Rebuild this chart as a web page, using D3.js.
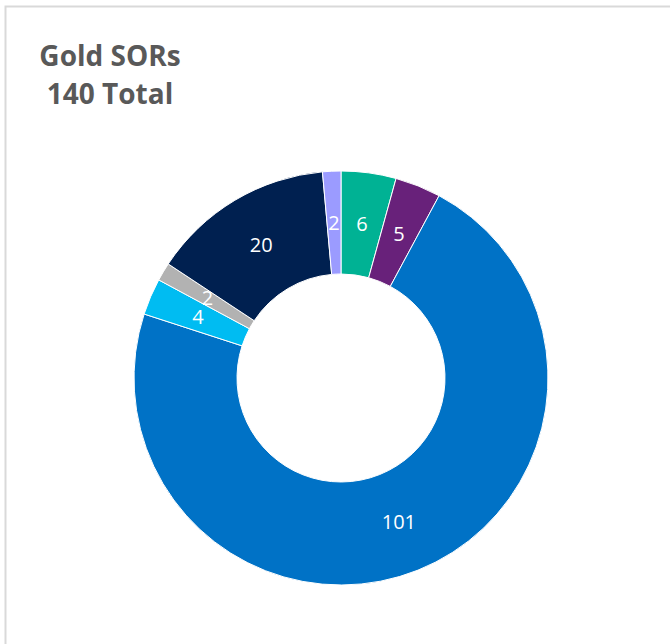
<!DOCTYPE html>
<html>
<head>
<meta charset="utf-8">
<script src="https://cdn.jsdelivr.net/npm/d3@7"></script>
<style>
  html, body { margin: 0; padding: 0; background: #fff; }
</style>
</head>
<body>
<svg id="chart" width="670" height="644"></svg>
<script>
// slices clockwise from 12 o'clock
const categories = ["A", "B", "C", "D", "E", "F", "G"]
const values = [6, 5, 101, 4, 2, 20, 2]
const colors = ["#00B294", "#68217A", "#0072C6", "#00BCF2", "#B2B2B2", "#002050", "#9B9BFF"]
const titleLines = ["Gold SORs", "140 Total"]

var svg = d3.select("#chart")

// panel border
svg.append("rect")
  .attr("x", 5.5).attr("y", 6.5)
  .attr("width", 700).attr("height", 700)
  .attr("fill", "none")
  .attr("stroke", "#d9d9d9")
  .attr("stroke-width", 2)

svg.selectAll(".title")
  .data(titleLines)
  .enter().append("text")
  .attr("class", "title")
  .attr("x", 110)
  .attr("y", (d, i) => 66 + i * 38)
  .attr("text-anchor", "middle")
  .attr("font-family", "'Open Sans', 'Noto Sans', sans-serif")
  .attr("font-weight", "bold")
  .attr("font-size", "28px")
  .attr("fill", "#595959")
  .text(d => d)

var cx = 341, cy = 378, outerR = 207, innerR = 104

var pie = d3.pie().sort(null).value(d => d)
var arc = d3.arc().innerRadius(innerR).outerRadius(outerR)

var color = d3.scaleOrdinal().domain(categories).range(colors)

var g = svg.append("g")
  .attr("transform", "translate(" + cx + "," + cy + ")")

var arcs = pie(values)

g.selectAll(".slice")
  .data(arcs)
  .enter().append("path")
  .attr("class", "slice")
  .attr("d", arc)
  .attr("fill", (d, i) => color(categories[i]))
  .attr("stroke", "#fff")
  .attr("stroke-width", 1)

g.selectAll(".lbl")
  .data(arcs)
  .enter().append("text")
  .attr("class", "lbl")
  .attr("transform", d => "translate(" + arc.centroid(d) + ")")
  .attr("text-anchor", "middle")
  .attr("dy", "0.35em")
  .attr("font-family", "'Open Sans', 'Noto Sans', sans-serif")
  .attr("font-size", "20px")
  .attr("fill", "#fff")
  .text(d => d.data)
</script>
</body>
</html>
